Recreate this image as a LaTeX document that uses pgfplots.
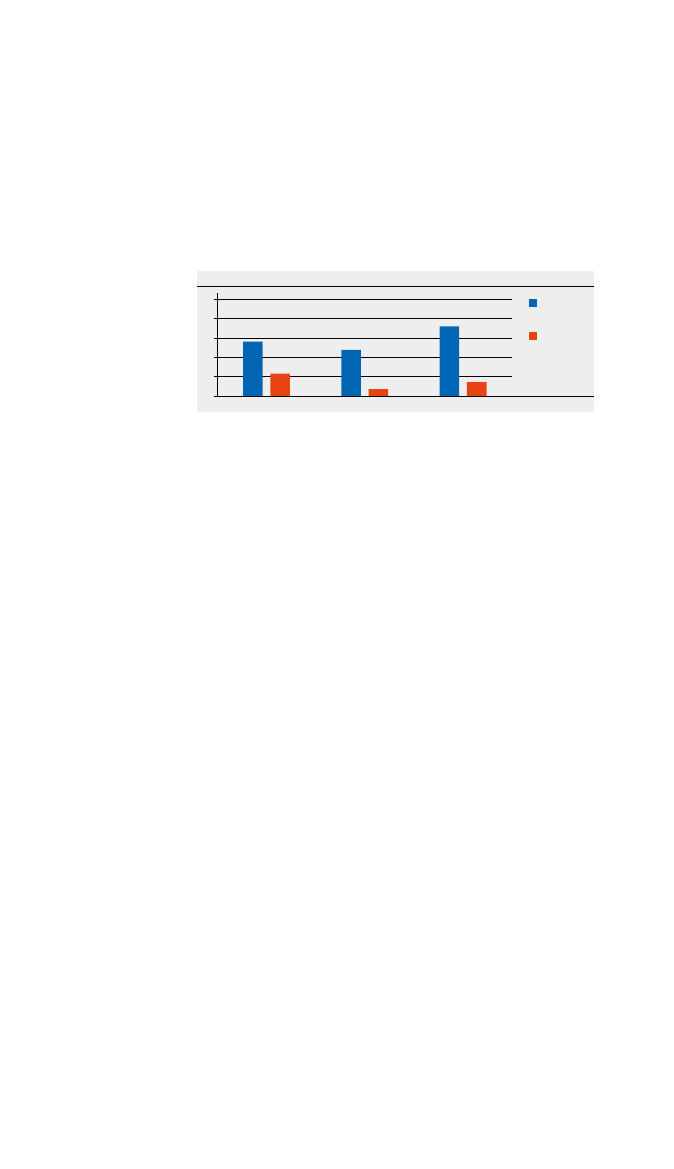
\documentclass[border=0pt]{standalone}
\usepackage{pgfplots}
\pgfplotsset{compat=1.18}
\definecolor{barblue}{HTML}{0066B3}
\definecolor{barorange}{HTML}{E84312}
\definecolor{panel}{HTML}{EEEEEE}
\begin{document}
\begin{tikzpicture}[x=1pt,y=1pt]
% page and grey panel (1 px = 1 pt, y measured from the bottom)
\fill[white] (0,0) rectangle (673,1169);
\fill[panel] (197,757) rectangle (594,898);
\draw[black, line width=0.75pt] (197,883) -- (594,883);
\begin{axis}[
	at={(217.3pt,773pt)}, anchor=south west,
	scale only axis,
	width=294.9pt, height=102.7pt,
	xmin=-0.5, xmax=2.5, ymin=0, ymax=5.31,
	axis x line=none,
	axis y line*=left,
	y axis line style={-, black, line width=0.75pt},
	ytick={0,1,2,3,4,5}, yticklabels={},
	xtick=\empty,
	tick align=outside, major tick length=3pt,
	tick style={black, line width=0.75pt},
	ymajorgrids,
	grid style={black, line width=0.75pt},
	ybar, bar width=19.6pt,
	legend style={at={(1.057,0.951)}, anchor=north west, draw=none, fill=none,
		inner sep=0pt, row sep=25.4pt, column sep=0pt, nodes={inner sep=0pt}},
]
\addplot[fill=barblue, draw=none, bar shift=-13.65pt,
	legend image code/.code={\fill[barblue] (0pt,-4pt) rectangle (8pt,4pt);}]
	coordinates {(0,2.81) (1,2.38) (2,3.60)};
\addplot[fill=barorange, draw=none, bar shift=13.65pt,
	legend image code/.code={\fill[barorange] (0pt,-4pt) rectangle (8pt,4pt);}]
	coordinates {(0,1.15) (1,0.36) (2,0.72)};
\legend{\mbox{},\mbox{}}
\end{axis}
% baseline runs past the plot to the panel's edge
\draw[black, line width=0.75pt] (214.3,773) -- (594,773);
\end{tikzpicture}
\end{document}
